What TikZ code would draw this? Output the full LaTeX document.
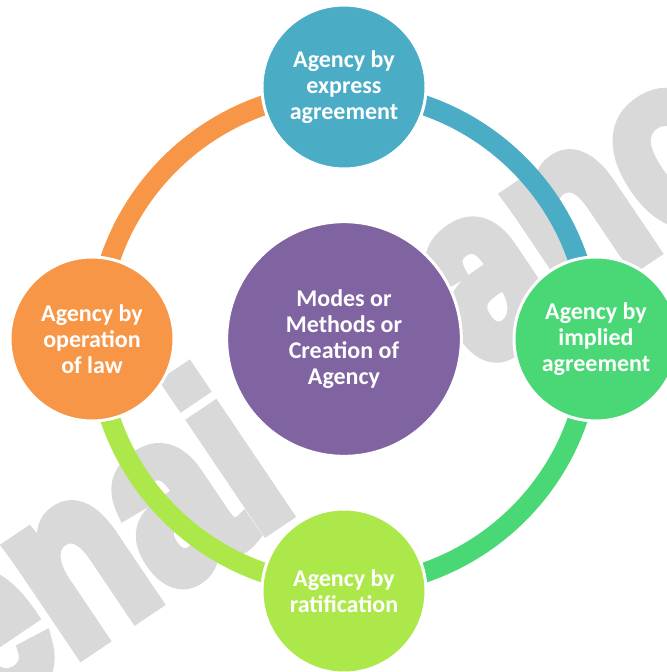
\documentclass[tikz,border=0pt]{standalone}
\usepackage{fontspec}
\setmainfont{Carlito}
\newfontfamily\markfont[FakeBold=6]{Liberation Sans Bold}
\definecolor{cblue}{HTML}{4BACC6}
\definecolor{cgreen}{HTML}{4AD877}
\definecolor{clime}{HTML}{ADE84A}
\definecolor{corange}{HTML}{F79646}
\definecolor{cpurple}{HTML}{8064A2}
\definecolor{cmark}{HTML}{D9D9D9}

\begin{document}
\begin{tikzpicture}[x=0.75pt,y=0.75pt,
  mode/.style={circle,draw=white,line width=2.25pt,minimum size=123pt,inner sep=0pt,
    text=white,align=center,font=\bfseries\fontsize{18}{19.5}\selectfont},
  ring/.style={line width=15pt},
  wmark/.style={text=cmark,inner sep=0pt,anchor=base west,rotate=34,yscale=1.27,
    font=\markfont\fontsize{143}{150}\selectfont}]
\useasboundingbox(0,0)rectangle(667,672);
\fill[white](0,0)rectangle(667,672);
\clip(0,0)rectangle(667,672);
% watermark
\node[wmark](wm1)at(-18,-48){enai};
\node[wmark](wm2)at(480,303){ano};
% ring
\coordinate(O)at(344,333);
\draw[ring,cblue]([shift={(90:247)}]O)arc[start angle=90,end angle=0,radius=247];
\draw[ring,cgreen]([shift={(0:247)}]O)arc[start angle=0,end angle=-90,radius=247];
\draw[ring,clime]([shift={(-90:247)}]O)arc[start angle=-90,end angle=-180,radius=247];
\draw[ring,corange]([shift={(180:247)}]O)arc[start angle=180,end angle=90,radius=247];
% circles
\node[mode,fill=cpurple,minimum size=176pt](modes)at(O){Modes or\\Methods or\\Creation of\\Agency};
\node[mode,fill=cblue](express)at([shift={(90:252)}]O){Agency by\\express\\agreement};
\node[mode,fill=cgreen](implied)at([shift={(0:252)}]O){Agency by\\implied\\agreement};
\node[mode,fill=clime](ratif)at([shift={(-90:252)}]O){Agency by\\ratification};
\node[mode,fill=corange](law)at([shift={(180:252)}]O){Agency by\\operation\\of law};
\end{tikzpicture}
\end{document}
